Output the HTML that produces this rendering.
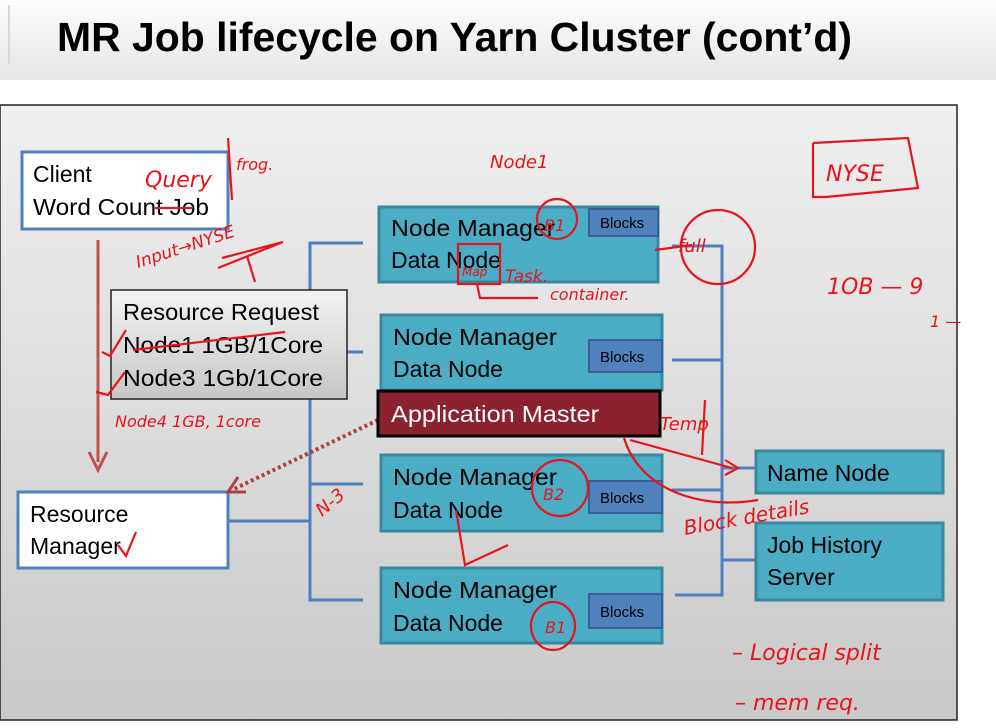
<!DOCTYPE html>
<html><head><meta charset="utf-8"><style>
html,body{margin:0;padding:0;width:996px;height:728px;overflow:hidden;background:#fff}
</style></head><body>
<svg width="996" height="728" viewBox="0 0 996 728" xmlns="http://www.w3.org/2000/svg" font-family="Liberation Sans, sans-serif">
<defs>
<linearGradient id="hd" x1="0" y1="0" x2="0" y2="1"><stop offset="0" stop-color="#fdfdfd"/><stop offset="1" stop-color="#e6e6e6"/></linearGradient>
<linearGradient id="pn" x1="0" y1="0" x2="0" y2="1"><stop offset="0" stop-color="#f0f0f0"/><stop offset="1" stop-color="#c9c9c9"/></linearGradient>
<linearGradient id="rr" x1="0" y1="0" x2="0" y2="1"><stop offset="0" stop-color="#f4f4f4"/><stop offset="1" stop-color="#c6c6c6"/></linearGradient>
</defs>
<rect x="0" y="0" width="996" height="80" fill="url(#hd)"/>
<line x1="9" y1="5" x2="9" y2="64" stroke="#d8d8d8" stroke-width="2"/>
<text x="57" y="51" font-size="41" font-weight="bold" fill="#000" textLength="795" lengthAdjust="spacingAndGlyphs">MR Job lifecycle on Yarn Cluster (cont’d)</text>
<rect x="0" y="105" width="957" height="615" fill="url(#pn)" stroke="#222" stroke-width="1.5"/>
<g stroke="#4f7fc0" stroke-width="3" fill="none">
<polyline points="363,243 310,243 310,600 363,600"/>
<line x1="310" y1="352" x2="363" y2="352"/>
<line x1="310" y1="484" x2="363" y2="484"/>
<line x1="228" y1="521" x2="310" y2="521"/>
<polyline points="672,246 722,246 722,595 675,595"/>
<line x1="672" y1="360" x2="722" y2="360"/>
<line x1="672" y1="490" x2="722" y2="490"/>
<line x1="722" y1="468" x2="755" y2="468"/>
<line x1="722" y1="560" x2="755" y2="560"/>
</g>
<rect x="22" y="152" width="206" height="77" fill="#fff" stroke="#4f81bd" stroke-width="3"/>
<text x="33" y="182" font-size="23">Client</text>
<text x="33" y="215" font-size="23" textLength="176" lengthAdjust="spacingAndGlyphs">Word Count Job</text>
<line x1="98" y1="240" x2="98" y2="462" stroke="#c0504d" stroke-width="3"/>
<polyline points="89,452 98,470 107,452" fill="none" stroke="#c0504d" stroke-width="3"/>
<rect x="111" y="290" width="236" height="109" fill="url(#rr)" stroke="#222" stroke-width="1.5"/>
<text x="123" y="320" font-size="23" textLength="196" lengthAdjust="spacingAndGlyphs">Resource Request</text>
<text x="123" y="353" font-size="23" textLength="200" lengthAdjust="spacingAndGlyphs">Node1 1GB/1Core</text>
<text x="123" y="386" font-size="23" textLength="200" lengthAdjust="spacingAndGlyphs">Node3 1Gb/1Core</text>
<rect x="18" y="492" width="210" height="76" fill="#fff" stroke="#4f81bd" stroke-width="3"/>
<text x="30" y="522" font-size="23">Resource</text>
<text x="30" y="554" font-size="23">Manager</text>
<line x1="378" y1="420" x2="232" y2="490" stroke="#b04040" stroke-width="4" stroke-dasharray="3,3"/>
<polyline points="238,477 228,492 246,492" fill="none" stroke="#b04040" stroke-width="3"/>
<g fill="#4bacc6" stroke="#3a87a0" stroke-width="3">
<rect x="379" y="207" width="279" height="75"/>
<rect x="381" y="315" width="281" height="75"/>
<rect x="381" y="455" width="281" height="76"/>
<rect x="381" y="568" width="281" height="75"/>
<rect x="756" y="451" width="187" height="42"/>
<rect x="756" y="523" width="187" height="77"/>
</g>
<g fill="#4f81bd" stroke="#3a5f9a" stroke-width="2">
<rect x="589" y="209" width="69" height="27"/>
<rect x="589" y="340" width="73" height="32"/>
<rect x="589" y="481" width="73" height="32"/>
<rect x="589" y="594" width="73" height="34"/>
</g>
<g font-size="15" fill="#000"><text x="600" y="228">Blocks</text><text x="600" y="362">Blocks</text><text x="600" y="503">Blocks</text><text x="600" y="617">Blocks</text></g>
<g font-size="23" fill="#000">
<text x="391" y="236" textLength="164" lengthAdjust="spacingAndGlyphs">Node Manager</text><text x="391" y="268">Data Node</text>
<text x="393" y="345" textLength="164" lengthAdjust="spacingAndGlyphs">Node Manager</text><text x="393" y="377">Data Node</text>
<text x="393" y="485" textLength="164" lengthAdjust="spacingAndGlyphs">Node Manager</text><text x="393" y="518">Data Node</text>
<text x="393" y="598" textLength="164" lengthAdjust="spacingAndGlyphs">Node Manager</text><text x="393" y="631">Data Node</text>
<text x="767" y="481">Name Node</text>
<text x="767" y="553">Job History</text><text x="767" y="585">Server</text>
</g>
<rect x="378" y="391" width="282" height="45" fill="#8b2230" stroke="#000" stroke-width="3"/>
<text x="391" y="422" font-size="23" fill="#fff" textLength="208" lengthAdjust="spacingAndGlyphs">Application Master</text>
<g fill="none" stroke="#e8141c" stroke-width="2.2">
<line x1="228" y1="138" x2="232" y2="200"/>
<line x1="155" y1="208" x2="193" y2="208"/>
<polyline points="218,268 283,242 222,258"/><line x1="247" y1="256" x2="255" y2="282"/>
<line x1="133" y1="350" x2="285" y2="332"/>
<polyline points="102,352 110,356 126,330"/><polyline points="96,392 108,395 125,372"/>
<circle cx="557" cy="219" r="20"/>
<rect x="458" y="244" width="42" height="40"/>
<polyline points="477,284 480,298 538,298"/>
<circle cx="718" cy="247" r="37"/>
<polyline points="655,250 692,245"/>
<polyline points="813,143 908,138 918,188 826,197 813,197 813,143"/>
<circle cx="560" cy="488" r="28"/>
<polyline points="456,510 465,565 508,545"/>
<ellipse cx="553" cy="626" rx="22" ry="24"/>
<polyline points="630,440 732,468"/><polyline points="725,460 738,468 725,475"/>
<path d="M624,438 C640,490 700,510 758,500"/>
<line x1="705" y1="400" x2="702" y2="455"/>
<polyline points="118,545 126,556 136,532"/>
</g>
<g fill="#e8141c" font-family="DejaVu Sans, sans-serif" font-style="italic">
<text x="145" y="187" font-size="22">Query</text>
<text x="236" y="170" font-size="16">frog.</text>
<text x="138" y="268" font-size="17" transform="rotate(-18 138 268)">Input→NYSE</text>
<text x="115" y="427" font-size="16">Node4  1GB, 1core</text>
<text x="490" y="168" font-size="18">Node1</text>
<text x="544" y="231" font-size="16">B1</text>
<text x="505" y="282" font-size="17">Task.</text>
<text x="550" y="300" font-size="16">container.</text>
<text x="462" y="276" font-size="12">Map</text>
<text x="678" y="252" font-size="18">full</text>
<text x="826" y="181" font-size="22">NYSE</text>
<text x="827" y="294" font-size="22">1OB — 9</text>
<text x="930" y="327" font-size="16">1 —</text>
<text x="660" y="430" font-size="18">Temp</text>
<text x="322" y="517" font-size="18" transform="rotate(-40 322 517)">N-3</text>
<text x="543" y="500" font-size="16">B2</text>
<text x="545" y="633" font-size="16">B1</text>
<text x="685" y="535" font-size="20" transform="rotate(-10 685 535)">Block details</text>
<text x="732" y="660" font-size="22">– Logical split</text>
<text x="735" y="710" font-size="22">– mem req.</text>
</g>
</svg>
</body></html>
